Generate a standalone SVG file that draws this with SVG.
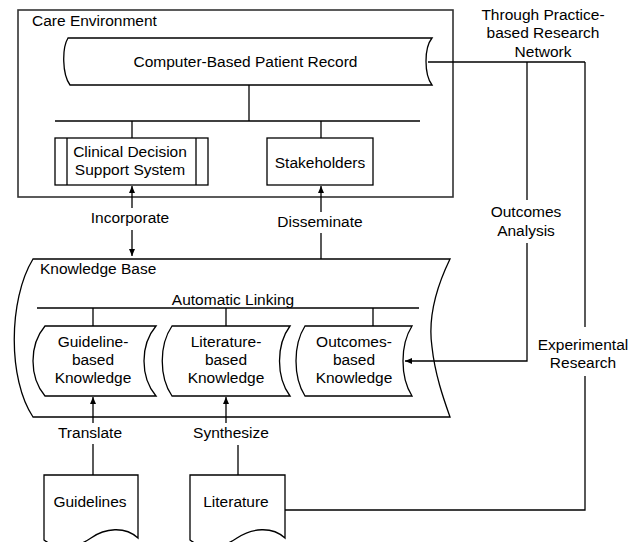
<svg xmlns="http://www.w3.org/2000/svg" width="637" height="542" viewBox="0 0 637 542">
<defs>
<marker id="ah" markerUnits="userSpaceOnUse" markerWidth="8" markerHeight="8" refX="7" refY="3" orient="auto">
<path d="M0,0 L7,3 L0,6 Z" fill="#000"/>
</marker>
<style>
text{font-family:"Liberation Sans",Arial,sans-serif;font-size:15.5px;fill:#000}
.c{text-anchor:middle}
.s{fill:#fff;stroke:#000;stroke-width:1.3}
.l{fill:none;stroke:#000;stroke-width:1.3}
.a{fill:none;stroke:#000;stroke-width:1.3;marker-end:url(#ah)}
</style>
</defs>
<rect width="637" height="542" fill="#fff"/>

<g id="care-environment">
<rect x="18" y="10" width="435" height="187" fill="none" stroke="#333" stroke-width="1.6"/>
<text x="32" y="26">Care Environment</text>
</g>

<g id="cbpr">
<path class="s" d="M68,38 H432 C424,48 424,74 432,85 H70 C62,74 62,48 68,38 Z"/>
<text class="c" x="245.5" y="67">Computer-Based Patient Record</text>
</g>

<g id="cdss">
<rect class="s" x="55" y="138" width="153" height="47"/>
<line class="l" x1="67" y1="138" x2="67" y2="185"/>
<line class="l" x1="196" y1="138" x2="196" y2="185"/>
<text class="c" x="130" y="157">Clinical Decision</text>
<text class="c" x="130" y="175">Support System</text>
</g>

<g id="stakeholders">
<rect class="s" x="267" y="138" width="106" height="47"/>
<text class="c" x="320" y="168">Stakeholders</text>
</g>

<g id="knowledge-base">
<path class="s" d="M33,259 H450 C435,290 428,320 432,347 C435,375 444,400 450,417 H33 C8,380 8,300 33,259 Z"/>
<text x="40" y="274">Knowledge Base</text>
<text class="c" x="233" y="305">Automatic Linking</text>
</g>

<g id="guideline-knowledge">
<path class="s" d="M45,326 H156 C140,345 140,377 156,396 H45 C29,377 29,345 45,326 Z"/>
<text class="c" x="93" y="347">Guideline-</text>
<text class="c" x="93" y="365">based</text>
<text class="c" x="93" y="383">Knowledge</text>
</g>

<g id="literature-knowledge">
<path class="s" d="M172,326 H290 C276,345 276,377 290,396 H172 C159,377 159,345 172,326 Z"/>
<text class="c" x="226" y="347">Literature-</text>
<text class="c" x="226" y="365">based</text>
<text class="c" x="226" y="383">Knowledge</text>
</g>

<g id="outcomes-knowledge">
<path class="s" d="M305,326 H412 C400,345 400,377 412,396 H305 C293,377 293,345 305,326 Z"/>
<text class="c" x="354" y="347">Outcomes-</text>
<text class="c" x="354" y="365">based</text>
<text class="c" x="354" y="383">Knowledge</text>
</g>

<g id="guidelines">
<path class="s" d="M44,475 H138 V538 C125,526 105,528 91,538 C77,548 57,550 44,540 Z"/>
<text class="c" x="90" y="507">Guidelines</text>
</g>

<g id="literature">
<path class="s" d="M190,475 H285 V538 C272,526 252,528 237,538 C223,548 203,550 190,540 Z"/>
<text class="c" x="236" y="507">Literature</text>
</g>

<g id="connectors">
<line class="l" x1="249" y1="85" x2="249" y2="121"/>
<line class="l" x1="55" y1="121" x2="420" y2="121"/>
<line class="l" x1="132" y1="121" x2="132" y2="138"/>
<line class="l" x1="321" y1="121" x2="321" y2="138"/>

<line class="a" x1="132" y1="208" x2="132" y2="186"/>
<line class="a" x1="132" y1="230" x2="132" y2="256"/>
<text class="c" x="130" y="223">Incorporate</text>

<line class="l" x1="321" y1="259" x2="321" y2="233"/>
<line class="a" x1="321" y1="212" x2="321" y2="186"/>
<text class="c" x="320" y="227">Disseminate</text>

<line class="l" x1="37" y1="308" x2="419" y2="308"/>
<line class="l" x1="93" y1="308" x2="93" y2="326"/>
<line class="l" x1="226" y1="308" x2="226" y2="326"/>
<line class="l" x1="373" y1="308" x2="373" y2="326"/>

<line class="a" x1="93" y1="423" x2="93" y2="397"/>
<line class="l" x1="93" y1="444" x2="93" y2="475"/>
<text class="c" x="90" y="438">Translate</text>

<line class="a" x1="226" y1="423" x2="226" y2="397"/>
<line class="l" x1="238" y1="445" x2="238" y2="475"/>
<text class="c" x="231" y="438">Synthesize</text>

<line class="l" x1="428" y1="62" x2="585" y2="62"/>
<text class="c" x="543" y="20">Through Practice-</text>
<text class="c" x="543" y="38">based Research</text>
<text class="c" x="543" y="57">Network</text>

<line class="l" x1="527" y1="62" x2="527" y2="200"/>
<polyline class="a" points="527,243 527,361 405,361"/>
<text class="c" x="526" y="217">Outcomes</text>
<text class="c" x="526" y="236">Analysis</text>

<line class="l" x1="585" y1="62" x2="585" y2="327"/>
<polyline class="l" points="585,376 585,510 285,510"/>
<text class="c" x="583" y="350">Experimental</text>
<text class="c" x="583" y="368">Research</text>
</g>
</svg>
